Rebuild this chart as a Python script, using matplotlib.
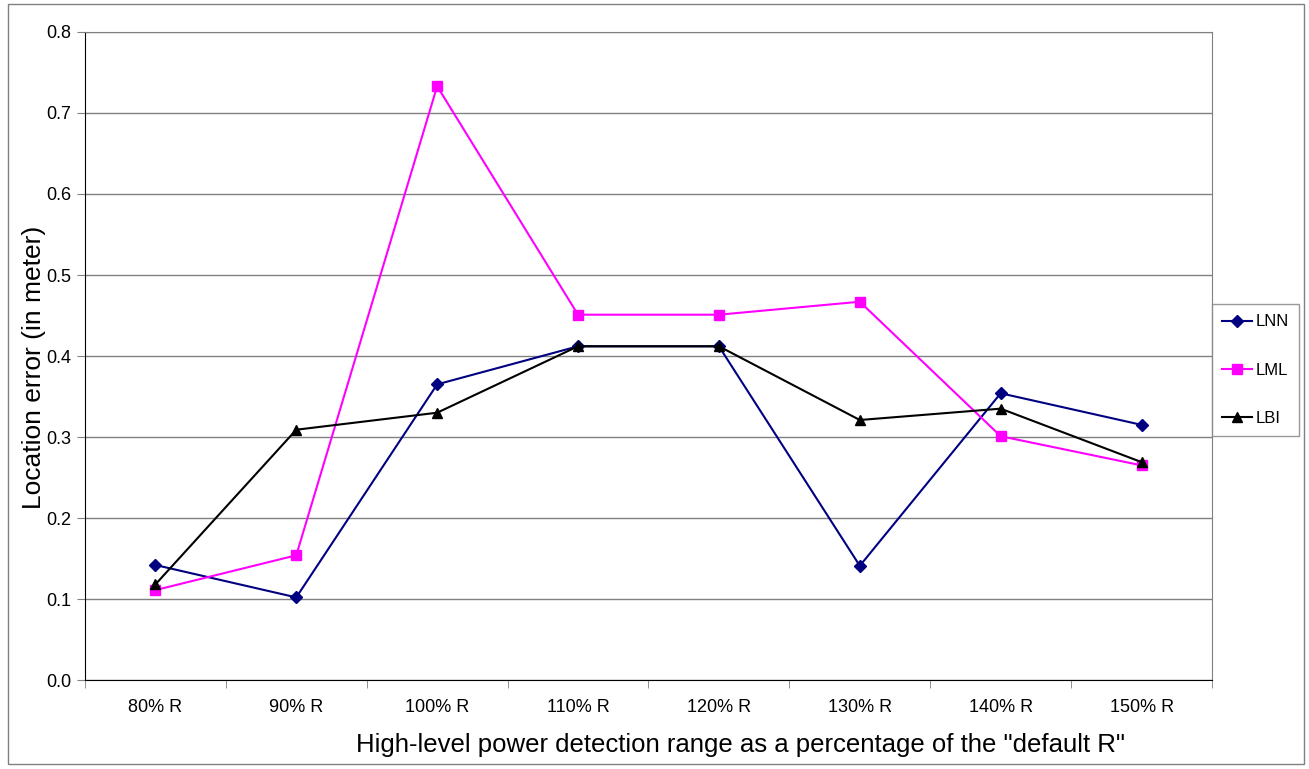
import numpy as np
import matplotlib.pyplot as plt
from matplotlib.patches import Rectangle

plt.rcParams['font.family'] = ['Liberation Sans', 'DejaVu Sans']

categories = ['80% R', '90% R', '100% R', '110% R', '120% R', '130% R', '140% R', '150% R']
lnn = [0.142, 0.102, 0.365, 0.412, 0.412, 0.141, 0.354, 0.315]
lml = [0.111, 0.154, 0.733, 0.451, 0.451, 0.467, 0.301, 0.265]
lbi = [0.118, 0.309, 0.330, 0.412, 0.412, 0.321, 0.335, 0.269]

fig = plt.figure(figsize=(13.09, 7.69), dpi=100)
ax = fig.add_axes([0.0649, 0.1157, 0.8610, 0.8427])

x = np.arange(len(categories))
ax.plot(x, lnn, color='#000080', marker='D', markersize=6, lw=1.5, label='LNN')
ax.plot(x, lml, color='#FF00FF', marker='s', markersize=7, lw=1.5, label='LML')
ax.plot(x, lbi, color='black', marker='^', markersize=7, lw=1.5, label='LBI')

ax.set_xlim(-0.5, len(categories) - 0.5)
ax.set_ylim(0, 0.8)
ax.set_yticks(np.arange(0, 0.81, 0.1))
ax.set_yticklabels([f'{v:.1f}' for v in np.arange(0, 0.81, 0.1)], fontsize=13)
ax.yaxis.grid(True, color='#808080', lw=1)
ax.set_axisbelow(True)

# category labels centred, tick marks on the boundaries between them
ax.set_xticks(x)
ax.set_xticklabels(categories, fontsize=13)
ax.tick_params(axis='x', length=0, pad=14)
ax.set_xticks(np.arange(-0.5, len(categories)), minor=True)
ax.tick_params(axis='x', which='minor', length=6, color='#808080')
ax.tick_params(axis='y', length=6, color='#808080', pad=4)

for side in ['top', 'right']:
    ax.spines[side].set_color('#808080')
for side in ['left', 'bottom']:
    ax.spines[side].set_color('black')

ax.set_xlabel('High-level power detection range as a percentage of the "default R"', fontsize=18.5)
ax.xaxis.set_label_coords(0.582, -0.082)
ax.set_ylabel('Location error (in meter)', fontsize=19)
ax.yaxis.set_label_coords(-0.035, 0.483)

leg = ax.legend(loc='center left', bbox_to_anchor=(1.0, 0.478), fontsize=12, frameon=True,
                fancybox=False, edgecolor='#808080', handlelength=1.8, labelspacing=2.0,
                borderpad=0.6, handletextpad=0.2, borderaxespad=0)
leg.get_frame().set_linewidth(1)

# outer chart border
fig.patches.append(Rectangle((0.006, 0.006), 0.99, 0.989, transform=fig.transFigure,
                             fill=False, edgecolor='#808080', lw=1))

fig.savefig('out.png', dpi=100)
